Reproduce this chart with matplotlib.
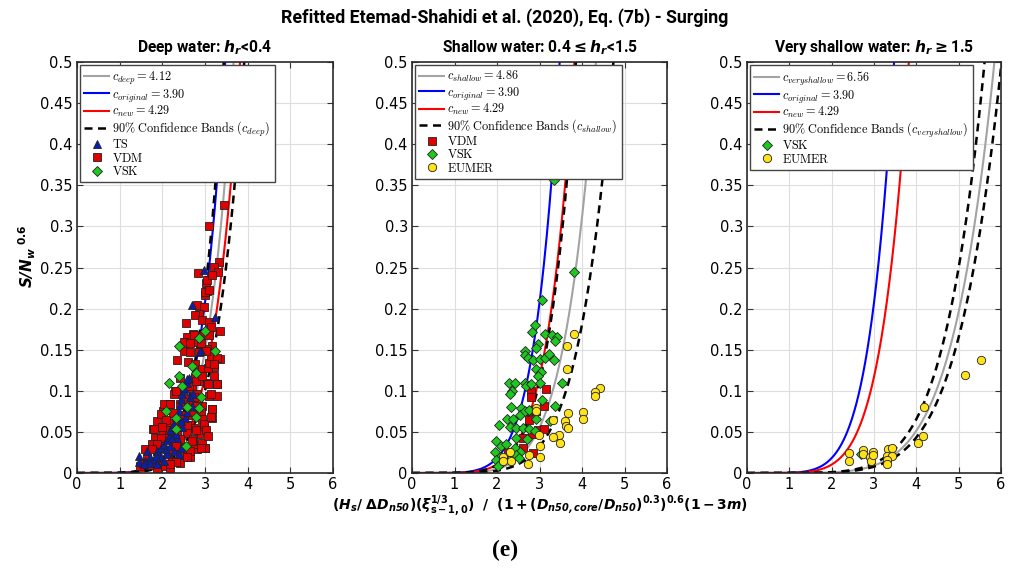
import numpy as np
import matplotlib
matplotlib.use('Agg')
import matplotlib.pyplot as plt

plt.rcParams['mathtext.fontset'] = 'cm'
plt.rcParams['font.family'] = ['DejaVu Sans']

# ---------------- fitted coefficients ----------------
C_ORIGINAL = 3.90
C_NEW = 4.29
C_DEEP = 4.12
C_SHALLOW = 4.86
C_VSHALLOW = 6.56
EXPONENT = 6.0
BAND_DEEP = [3.86, 4.40]
BAND_SHALLOW = [4.33, 5.32]
BAND_VSHALLOW = [6.30, 6.75]

# ---------------- panel 1 : deep water ----------------
deep_TS_x = [1.45, 1.45, 1.64, 1.72, 1.60, 1.80, 1.88, 1.96, 2.04, 2.11, 2.15, 2.19, 2.23, 2.27,
             2.33, 2.39, 2.41, 2.44, 2.47, 2.51, 2.57, 2.62, 1.96, 2.11, 2.27, 2.39, 2.44, 2.08,
             1.84, 2.19, 2.35, 2.47, 2.52, 2.23, 2.04, 1.72, 2.31, 2.44, 2.57, 2.65, 2.90, 2.70,
             1.88, 1.57, 2.69, 3.24, 2.89, 2.58, 2.50, 2.73, 2.98]
deep_TS_y = [0.021, 0.013, 0.027, 0.020, 0.015, 0.017, 0.027, 0.031, 0.035, 0.040, 0.044, 0.052,
             0.056, 0.060, 0.068, 0.076, 0.083, 0.090, 0.096, 0.101, 0.109, 0.116, 0.019, 0.023,
             0.027, 0.023, 0.031, 0.029, 0.021, 0.033, 0.043, 0.056, 0.067, 0.043, 0.015, 0.012,
             0.048, 0.063, 0.074, 0.092, 0.148, 0.082, 0.011, 0.011, 0.204, 0.190, 0.149, 0.114,
             0.104, 0.096, 0.247]
deep_VDM_x = [3.03, 3.05, 3.01, 2.81, 2.98, 2.85, 2.77, 2.93, 3.09, 2.56, 3.13, 3.36, 2.73, 2.89,
              2.58, 2.77, 3.17, 3.05, 2.50, 2.65, 2.85, 3.36, 2.34, 2.61, 2.77, 3.09, 2.93, 3.21,
              2.42, 2.77, 2.89, 3.05, 3.28, 2.69, 2.42, 2.81, 3.09, 3.28, 2.61, 2.18, 2.42, 2.73,
              2.93, 3.17, 2.02, 2.26, 2.50, 2.85, 3.17, 1.87, 2.18, 2.42, 2.65, 2.77, 2.97, 1.79,
              2.02, 2.34, 2.58, 2.85, 1.83, 2.10, 2.42, 2.73, 3.01, 1.75, 1.98, 2.26, 2.50, 2.81,
              1.59, 1.87, 2.14, 2.42, 2.65, 1.63, 1.95, 2.22, 2.42, 1.71, 2.02, 1.47, 1.87, 2.18,
              1.55, 2.58, 2.73, 2.93, 2.30, 2.51, 3.21,
              3.44, 3.09, 3.33, 3.20, 2.84, 3.31, 3.04, 3.16, 3.00, 3.10,
              1.80, 1.96, 2.04, 2.18, 2.27, 2.31, 2.74, 2.82, 2.90, 2.94, 2.98, 3.02, 3.06, 3.13,
              3.17, 3.00, 2.90, 2.66, 2.58, 2.31, 2.19, 2.70, 2.78, 2.58, 2.70, 2.31, 2.15, 2.08,
              2.00, 1.96, 1.88, 1.76, 2.62, 2.78, 2.94, 3.06, 3.09, 3.13, 3.29, 3.21, 3.06, 3.13,
              3.29, 3.02, 2.90, 2.66, 2.74, 3.09]
deep_VDM_y = [0.231, 0.222, 0.216, 0.204, 0.202, 0.194, 0.192, 0.186, 0.184, 0.182, 0.178, 0.173,
              0.169, 0.167, 0.165, 0.159, 0.155, 0.151, 0.149, 0.147, 0.147, 0.139, 0.137, 0.135,
              0.133, 0.133, 0.127, 0.118, 0.116, 0.116, 0.112, 0.110, 0.108, 0.104, 0.100, 0.096,
              0.094, 0.094, 0.090, 0.084, 0.084, 0.084, 0.082, 0.078, 0.076, 0.073, 0.071, 0.069,
              0.067, 0.063, 0.061, 0.059, 0.059, 0.055, 0.055, 0.053, 0.051, 0.049, 0.049, 0.047,
              0.043, 0.043, 0.041, 0.041, 0.031, 0.035, 0.033, 0.033, 0.031, 0.029, 0.029, 0.027,
              0.025, 0.022, 0.020, 0.018, 0.016, 0.014, 0.012, 0.010, 0.008, 0.008, 0.006, 0.006,
              0.012, 0.025, 0.035, 0.037, 0.100, 0.159, 0.129,
              0.326, 0.300, 0.257, 0.251, 0.243, 0.245, 0.235, 0.241, 0.220, 0.223,
              0.054, 0.072, 0.084, 0.084, 0.096, 0.100, 0.092, 0.082, 0.074, 0.066, 0.060, 0.052,
              0.045, 0.068, 0.078, 0.031, 0.031, 0.027, 0.019, 0.013, 0.011, 0.039, 0.052, 0.058,
              0.070, 0.033, 0.052, 0.064, 0.056, 0.043, 0.035, 0.029, 0.106, 0.112, 0.118, 0.128,
              0.134, 0.142, 0.140, 0.132, 0.108, 0.096, 0.108, 0.148, 0.158, 0.158, 0.168, 0.168]
deep_VSK_x = [2.39, 2.15, 2.39, 2.47, 2.70, 2.80, 2.86, 3.24, 2.90, 2.86, 2.57, 2.08, 2.31, 2.80,
              2.31, 2.55, 2.99]
deep_VSK_y = [0.155, 0.110, 0.118, 0.106, 0.130, 0.122, 0.164, 0.149, 0.092, 0.079, 0.080, 0.076,
              0.067, 0.068, 0.053, 0.033, 0.173]

# ---------------- panel 2 : shallow water ----------------
sh_VDM_x = [3.16, 2.81, 2.81, 3.10, 2.72, 2.92, 2.75, 2.96, 3.10, 2.83, 2.61, 2.61, 2.85, 2.26]
sh_VDM_y = [0.102, 0.100, 0.092, 0.081, 0.075, 0.075, 0.065, 0.052, 0.053, 0.048, 0.043, 0.031,
            0.024, 0.026]
sh_VSK_x = [3.34, 3.81, 3.05, 2.89, 2.83, 3.14, 3.30, 3.41, 3.36, 2.96, 2.91, 2.67, 2.65, 2.73,
            2.85, 3.00, 3.14, 3.22, 3.33, 2.92, 3.04, 2.96, 3.02, 2.28, 2.42, 2.36, 2.31, 2.65,
            2.69, 2.81, 3.54, 2.34, 2.57, 2.24, 2.38, 2.55, 2.65, 2.75, 2.92, 3.07, 3.36, 3.24,
            2.05, 2.30, 2.45, 2.61, 2.75, 2.89, 2.45, 2.71, 1.98, 2.10, 2.22, 2.42, 2.53, 1.95,
            2.45, 2.06, 1.97, 2.52, 2.10, 2.02]
sh_VSK_y = [0.357, 0.244, 0.210, 0.180, 0.171, 0.169, 0.168, 0.165, 0.160, 0.157, 0.152, 0.148,
            0.144, 0.140, 0.138, 0.139, 0.140, 0.145, 0.137, 0.126, 0.123, 0.118, 0.109, 0.110,
            0.109, 0.100, 0.096, 0.110, 0.106, 0.108, 0.110, 0.080, 0.079, 0.066, 0.066, 0.071,
            0.075, 0.077, 0.066, 0.089, 0.081, 0.063, 0.058, 0.056, 0.055, 0.055, 0.053, 0.051,
            0.043, 0.041, 0.039, 0.033, 0.035, 0.031, 0.026, 0.026, 0.022, 0.020, 0.016, 0.018,
            0.012, 0.008]
sh_EUMER_x = [3.80, 3.65, 3.65, 4.43, 4.31, 4.31, 4.02, 4.02, 3.68, 2.92, 2.91, 3.32, 3.59, 3.63,
              3.67, 3.46, 3.32, 3.49, 2.98, 3.00, 2.75, 3.00, 2.74, 2.13, 2.31, 2.32, 2.14]
sh_EUMER_y = [0.169, 0.154, 0.127, 0.104, 0.098, 0.094, 0.074, 0.066, 0.073, 0.079, 0.075, 0.064,
              0.063, 0.057, 0.055, 0.046, 0.044, 0.036, 0.046, 0.033, 0.022, 0.020, 0.011, 0.019,
              0.026, 0.015, 0.014]

# ---------------- panel 3 : very shallow water ----------------
vs_VSK_x = [2.69]
vs_VSK_y = [0.023]
vs_EUMER_x = [2.41, 2.41, 2.74, 2.74, 2.91, 2.92, 2.98, 2.98, 3.33, 3.43, 3.31, 3.43, 3.31, 3.31,
              4.04, 4.16, 4.18, 5.16, 5.53]
vs_EUMER_y = [0.024, 0.014, 0.028, 0.023, 0.020, 0.014, 0.026, 0.022, 0.029, 0.030, 0.021, 0.021,
              0.016, 0.011, 0.037, 0.045, 0.080, 0.119, 0.137]

COL_GRAY = '#a3a3a3'
COL_BLUE = '#0000ff'
COL_RED = '#ff0000'
MK = dict(ls='none', markeredgecolor='#222222', markeredgewidth=0.6)
STY = {
    'TS': dict(marker='^', color='#0a1fb0', markersize=6, **MK),
    'VDM': dict(marker='s', color='#e00000', markersize=5.2, **MK),
    'VSK': dict(marker='D', color='#1ec81e', markersize=5.0, **MK),
    'EUMER': dict(marker='o', color='#ffe21a', markersize=6, **MK),
}

fig = plt.figure(figsize=(10.09, 5.70), dpi=100)
W, H = 1009.0, 570.0
lefts = [77, 412, 747]
widths = [256, 255, 254]
top_px, bot_px = 62, 473

xfit = np.linspace(0, 6, 800)


def curve(c):
    return (xfit / c) ** EXPONENT


panels = [
    dict(title=r'Deep water: $\mathbfit{h_r}$<0.4', cname='deep', c=C_DEEP, band=BAND_DEEP,
         series=[('VDM', deep_VDM_x, deep_VDM_y), ('TS', deep_TS_x, deep_TS_y),
                 ('VSK', deep_VSK_x, deep_VSK_y)],
         order=['TS', 'VDM', 'VSK']),
    dict(title=r'Shallow water: 0.4$\mathbf{\leq}\mathbfit{h_r}$<1.5', cname='shallow', c=C_SHALLOW,
         band=BAND_SHALLOW,
         series=[('VDM', sh_VDM_x, sh_VDM_y), ('VSK', sh_VSK_x, sh_VSK_y),
                 ('EUMER', sh_EUMER_x, sh_EUMER_y)],
         order=['VDM', 'VSK', 'EUMER']),
    dict(title=r'Very shallow water: $\mathbfit{h_r}\mathbf{\geq}$1.5', cname='veryshallow',
         c=C_VSHALLOW, band=BAND_VSHALLOW,
         series=[('VSK', vs_VSK_x, vs_VSK_y), ('EUMER', vs_EUMER_x, vs_EUMER_y)],
         order=['VSK', 'EUMER']),
]

for i, p in enumerate(panels):
    ax = fig.add_axes([lefts[i] / W, 1 - bot_px / H, widths[i] / W, (bot_px - top_px) / H])
    ax.set_xlim(0, 6)
    ax.set_ylim(0, 0.5)
    ax.set_xticks(range(0, 7))
    ax.set_yticks(np.arange(0, 0.501, 0.05))
    ax.set_yticklabels(['0'] + ['%g' % v for v in np.arange(0.05, 0.501, 0.05)])
    ax.grid(True, color='#dedede', lw=0.8)
    ax.set_axisbelow(True)
    ax.tick_params(direction='in', top=True, right=True, labelsize=10.5, length=4,
                   color='#333333', width=0.8, pad=3)
    for s in ax.spines.values():
        s.set_color('#2a2a2a')
        s.set_linewidth(1.2)

    h_fit, = ax.plot(xfit, curve(p['c']), color=COL_GRAY, lw=1.5,
                     label=r'$c_{%s} = %.2f$' % (p['cname'], p['c']))
    h_org, = ax.plot(xfit, curve(C_ORIGINAL), color=COL_BLUE, lw=1.5,
                     label=r'$c_{original} = %.2f$' % C_ORIGINAL)
    h_new, = ax.plot(xfit, curve(C_NEW), color=COL_RED, lw=1.5,
                     label=r'$c_{new} = %.2f$' % C_NEW)
    h_band = None
    for cb in p['band']:
        h_band, = ax.plot(xfit, curve(cb), color='black', lw=1.8, dashes=(3.2, 2.2),
                          label=r'$\mathrm{90\%%\ Confidence\ Bands\ (}c_{%s}\mathrm{)}$' % p['cname'])

    mh = {}
    for name, xs, ys in p['series']:
        mh[name], = ax.plot(xs, ys, label=name, zorder=3, **STY[name])

    handles = [h_fit, h_org, h_new, h_band] + [mh[n] for n in p['order']]
    labels = [h.get_label() for h in handles[:4]] + [r'$\mathrm{%s}$' % n for n in p['order']]
    leg = ax.legend(handles, labels, loc='upper left', frameon=True, fancybox=False,
                    framealpha=1, edgecolor='#444444', borderaxespad=0.25, labelspacing=0.02,
                    handlelength=2.0, handletextpad=0.3, borderpad=0.35,
                    prop={'family': 'DejaVu Serif', 'size': 8.8})
    leg.get_frame().set_linewidth(1.0)
    for t in leg.get_texts():
        t.set_math_fontfamily('cm')

    ax.set_title(p['title'], fontsize=11.2, fontweight='bold', pad=7,
                 family=['Roboto', 'DejaVu Sans'], math_fontfamily='dejavusans')

fig.text(505 / W, 1 - 18 / H, 'Refitted Etemad-Shahidi et al. (2020), Eq. (7b) - Surging',
         ha='center', va='center', fontsize=12.8, fontweight='bold',
         family=['Roboto', 'DejaVu Sans'])

fig.text(27 / W, 1 - 256 / H, r'$\mathbfit{S/N_w}^{\ \mathbf{0.6}}$', rotation=90, ha='center',
         va='center', fontsize=11, math_fontfamily='dejavusans')

xl = (r'$\mathbf{(}\mathbfit{H_s}\mathbf{/}\ \mathbf{\Delta}\mathbfit{D_{n50}}\mathbf{)(}'
      r'\mathbfit{\xi}^{\mathbf{1/3}}_{\mathbf{s-1,0}}\mathbf{)\ \ /\ \ (1+(}'
      r'\mathbfit{D_{n50,core}}\mathbf{/}\mathbfit{D_{n50}}\mathbf{)}^{\mathbf{0.3}}\mathbf{)}^{\mathbf{0.6}}'
      r'\mathbf{(1-3}\mathbfit{m}\mathbf{)}$')
fig.text(540 / W, 1 - 506 / H, xl, ha='center', va='center', fontsize=10,
         math_fontfamily='dejavusans')

fig.text(505 / W, 1 - 550 / H, '(e)', ha='center', va='center', fontsize=17, fontweight='bold',
         family=['Liberation Serif', 'DejaVu Serif'])

fig.savefig('out.png', dpi=100)
